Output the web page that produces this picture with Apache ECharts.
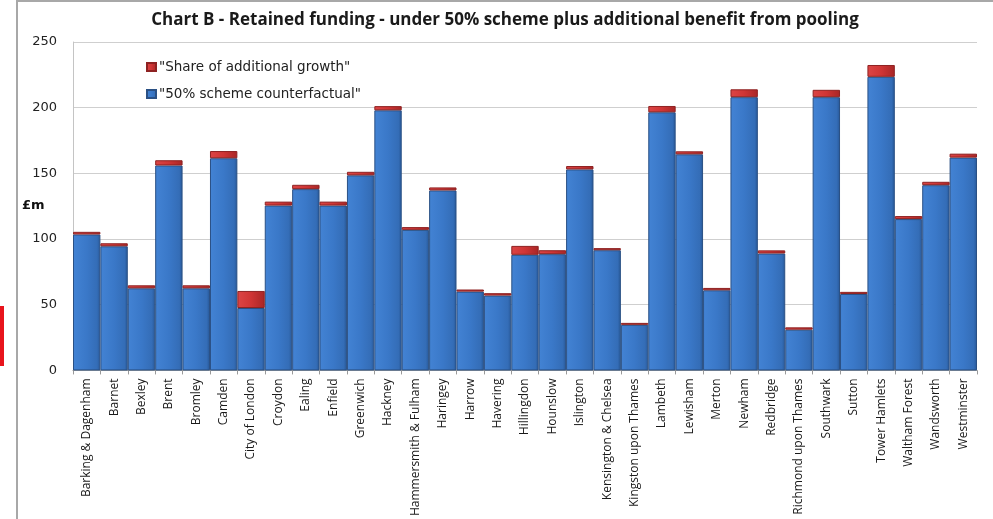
<!DOCTYPE html>
<html>
<head>
<meta charset="utf-8">
<script src="https://cdn.jsdelivr.net/npm/echarts@6/dist/echarts.min.js"></script>
<style>
html,body{margin:0;padding:0;background:#fff;}
#chart{width:993px;height:519px;}
</style>
</head>
<body>
<div id="chart"></div>
<script>
const boroughs = ["Barking & Dagenham","Barnet","Bexley","Brent","Bromley","Camden","City of London","Croydon","Ealing","Enfield","Greenwich","Hackney","Hammersmith & Fulham","Haringey","Harrow","Havering","Hillingdon","Hounslow","Islington","Kensington & Chelsea","Kingston upon Thames","Lambeth","Lewisham","Merton","Newham","Redbridge","Richmond upon Thames","Southwark","Sutton","Tower Hamlets","Waltham Forest","Wandsworth","Westminster"];
const counterfactual = [103.5,94.5,62.5,156,62.5,161.5,47.5,125.5,138,125.5,148.5,198,107,137,60,57,88,88.5,153,91.5,34.7,196.5,164.5,61,208,89,31,208,58.2,223.5,115.2,141,162];
const additionalGrowth = [2,2.3,2.3,4,2.3,5.5,13,3,3.3,3,2.7,3.2,2.1,2.3,1.6,1.8,6.8,3,2.6,1.6,1.5,4.8,2.3,1.8,6,2.4,1.8,5.6,1.6,9,2.3,2.6,3];
const yTicks = {min:0, max:250, interval:50};
const titleText = "Chart B - Retained funding - under 50% scheme plus additional benefit from pooling";
const seriesNames = ['"50% scheme counterfactual"', '"Share of additional growth"'];
const unitLabel = '£m';

const chart = echarts.init(document.getElementById('chart'), null, {renderer:'canvas'});
const blueFill = new echarts.graphic.LinearGradient(0,0,1,0,[
  {offset:0,color:'#4383d4'},{offset:0.5,color:'#3a78c8'},{offset:0.88,color:'#346db7'},{offset:1,color:'#275796'}]);
const redFill = new echarts.graphic.LinearGradient(0,0,1,0,[
  {offset:0,color:'#dc4545'},{offset:0.5,color:'#cf3535'},{offset:1,color:'#a82626'}]);

chart.setOption({
  animation:false,
  backgroundColor:'#ffffff',
  title:{
    text:titleText, left:500, textAlign:'center', top:7,
    textStyle:{fontFamily:'Open Sans', fontWeight:'bold', fontSize:17, color:'#1a1a1a'}
  },
  legend:{
    data:[seriesNames[1], seriesNames[0]],
    orient:'vertical', left:141, top:55, itemWidth:9, itemHeight:8, itemGap:13,
    icon:'rect',
    textStyle:{fontFamily:'DejaVu Sans', fontSize:13.5, color:'#222', padding:[0,0,0,-2]}
  },
  grid:{left:73, right:16, top:42, bottom:148},
  xAxis:{
    type:'category', data:boroughs,
    axisLine:{lineStyle:{color:'#9a9a9a', width:1}},
    axisTick:{show:true, length:4, lineStyle:{color:'#9a9a9a'}},
    axisLabel:{interval:0, rotate:90, margin:8, fontFamily:'Open Sans', fontSize:12, color:'#1a1a1a'}
  },
  yAxis:{
    type:'value', min:yTicks.min, max:yTicks.max, interval:yTicks.interval,
    axisLine:{show:true, lineStyle:{color:'#c4c4c4'}},
    axisTick:{show:false},
    splitLine:{lineStyle:{color:'#cfcfcf', width:1}},
    axisLabel:{margin:16, fontFamily:'DejaVu Sans', fontSize:13, color:'#222'}
  },
  series:[
    {name:seriesNames[0], type:'bar', stack:'t', data:counterfactual, barCategoryGap:'0%',
     itemStyle:{color:blueFill, borderColor:'#2a5084', borderWidth:1}},
    {name:seriesNames[1], type:'bar', stack:'t', data:additionalGrowth, barCategoryGap:'0%',
     itemStyle:{color:redFill, borderColor:'#8e2222', borderWidth:1}}
  ],
  graphic:[
    {type:'line', shape:{x1:17,y1:0,x2:17,y2:519}, style:{stroke:'#a8a8a8', lineWidth:2}},
    {type:'line', shape:{x1:17,y1:1,x2:993,y2:1}, style:{stroke:'#a8a8a8', lineWidth:2}},
    {type:'rect', shape:{x:0,y:306,width:4,height:60}, style:{fill:'#e8141c'}},
    {type:'text', left:22, top:199, style:{text:unitLabel, fontFamily:'DejaVu Sans', fontWeight:'bold', fontSize:13, fill:'#111'}}
  ]
});
</script>
</body>
</html>
